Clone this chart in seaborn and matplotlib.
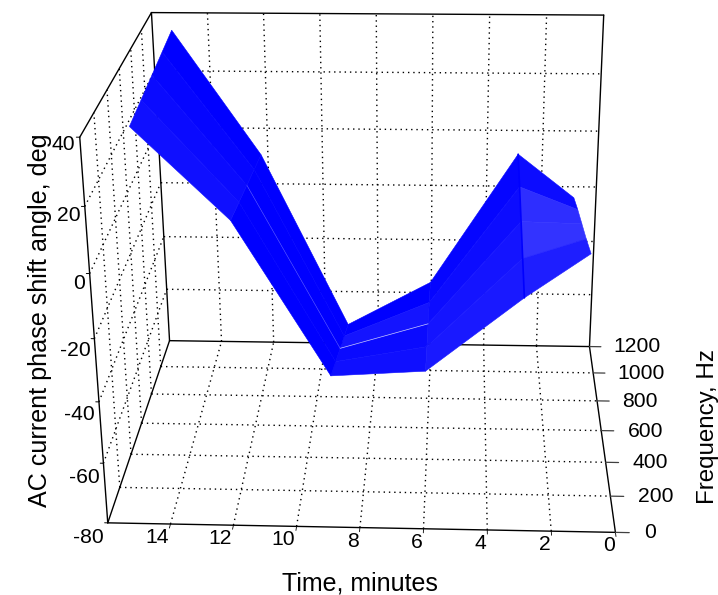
import numpy as np
import matplotlib
matplotlib.use("Agg")
import matplotlib.pyplot as plt
import seaborn as sns
from mpl_toolkits.mplot3d import proj3d

# surface values
times = [0.95, 2.95, 6, 9, 12, 14.95]
freqs = [200, 400, 600, 800, 1000]
phase_200 = [-1, -15, -39, -41, 8, 36]
phase_400 = [-5, -11.5, -41, -46.5, 5.5, 37]
phase_600 = [-8.5, -8, -43, -52, 3, 38]
phase_800 = [-12, -4.5, -45, -57.5, 0.5, 39]
phase_1000 = [-16, -1, -47, -63, -2, 40]

time_ticks = [0, 2, 4, 6, 8, 10, 12, 14]
freq_ticks = [0, 200, 400, 600, 800, 1000, 1200]
phase_ticks = [-80, -60, -40, -20, 0, 20, 40]
# how far each patch is washed out by the moire of the dense lines
wash_200 = [0.12, 0.10, 0.06, 0.0, 0.06]
wash_400 = [0.20, 0.08, 0.04, 0.0, 0.04]
wash_600 = [0.18, 0.05, 0.08, 0.0, 0.02]
wash_800 = [0.05, 0.02, 0.0, 0.0, 0.0]

sns.set_style("white")
plt.rcParams['font.family'] = ['Liberation Sans', 'DejaVu Sans']
plt.rcParams['text.color'] = 'k'
fs = 15.2
fs_label = 18
blue = '#0000ff'
dotted = dict(color='k', lw=1.0, ls=(0, (1, 2.8)), zorder=1)
solid = dict(color='k', lw=1.0, zorder=2)

fig = plt.figure(figsize=(7.18, 5.95), dpi=100)
size = 712.1
ax = fig.add_axes([2.9/718, -26.5/595, size/718, size/595], projection='3d', computed_zorder=False)
ax.set_axis_off()
ax.set_xlim(16, 0)
ax.set_ylim(0, 1200)
ax.set_zlim(-80, 40)
ax.view_init(elev=23.035, azim=-87.034, roll=0.487)
ax.set_proj_type('persp', focal_length=0.4826)
ax.set_box_aspect((1, 0.8327, 0.8078))

t0, t1 = 16, 0
f0, f1 = 0, 1200
z0, z1 = -80, 40


def label3d(x, y, z, s, **kw):
    # flat text placed at the projected spot
    X, Y, _ = proj3d.proj_transform(x, y, z, ax.get_proj())
    ax.text2D(X, Y, s, transform=ax.transData, fontsize=fs, **kw)


# dotted grids on floor, back wall and left wall
for t in time_ticks[1:]:
    ax.plot([t, t], [f0, f1], [z0, z0], **dotted)
    ax.plot([t, t], [f1, f1], [z0, z1], **dotted)
for f in freq_ticks[1:-1]:
    ax.plot([t0, t1], [f, f], [z0, z0], **dotted)
    ax.plot([t0, t0], [f, f], [z0, z1], **dotted)
for z in phase_ticks[1:-1]:
    ax.plot([t0, t1], [f1, f1], [z, z], **dotted)
    ax.plot([t0, t0], [f0, f1], [z, z], **dotted)

# box edges
ax.plot([t0, t1], [f0, f0], [z0, z0], **solid)
ax.plot([t0, t0], [f0, f1], [z0, z0], **solid)
ax.plot([t0, t1], [f1, f1], [z0, z0], **solid)
ax.plot([t1, t1], [f0, f1], [z0, z0], **solid)
ax.plot([t0, t0], [f0, f0], [z0, z1], **solid)
ax.plot([t0, t0], [f1, f1], [z0, z1], **solid)
ax.plot([t1, t1], [f1, f1], [z0, z1], **solid)
ax.plot([t0, t0], [f0, f1], [z1, z1], **solid)
ax.plot([t0, t1], [f1, f1], [z1, z1], **solid)

# ticks and their labels
for t in time_ticks:
    ax.plot([t, t], [f0, -22], [z0, z0], color='k', lw=0.6, zorder=2)
    label3d(t+0.03, -22, z0, str(t), ha='right', va='top')
for f in freq_ticks:
    ax.plot([t1, -0.43], [f, f], [z0, z0], color='0.25', lw=0.9, zorder=2)
    label3d(-0.9, f, z0, str(f), ha='left', va='center')
for z in phase_ticks:
    ax.plot([t0, 16.1], [f0, f0], [z, z], color='k', lw=0.7, zorder=2)
    label3d(16.13, f0, z*1.02-0.3, str(z), ha='right', va='top')

# the surface
T, F = np.meshgrid(times, freqs)
P = np.array([phase_200, phase_400, phase_600, phase_800, phase_1000])
W = np.array([wash_200, wash_400, wash_600, wash_800])
wash = sns.blend_palette([blue, 'white'], n_colors=101)
cols = np.ones((P.shape[0], P.shape[1], 4))
for i in range(W.shape[0]):
    for j in range(W.shape[1]):
        cols[i, j, :3] = wash[int(W[i, j]*100)]
ax.plot_surface(T, F, P, facecolors=cols, rstride=1, cstride=1, shade=False, linewidth=0.4, antialiased=True, zorder=3)

# denser line along the t=3 column and thin gaps in the t=6..9 strip
ax.plot([times[1]]*len(freqs), freqs, P[:, 1], color=blue, lw=1.2, zorder=4)
ax.plot(times[2:4], [600, 600], P[2, 2:4], color='#c8c8ff', lw=0.5, zorder=4)
ax.plot(times[3:5], [600, 600], P[2, 3:5], color='#5a5aff', lw=0.4, zorder=4)

fig.text(360/718, 1-584/595, "Time, minutes", ha='center', va='center', fontsize=fs_label)
fig.text(40.5/718, 1-320/595, "AC current phase shift angle, deg", ha='center', va='center', rotation=90, fontsize=fs_label+0.1)
fig.text(708/718, 1-427/595, "Frequency, Hz", ha='center', va='center', rotation=90, fontsize=fs_label-0.6)

fig.savefig("out.png", dpi=100)
